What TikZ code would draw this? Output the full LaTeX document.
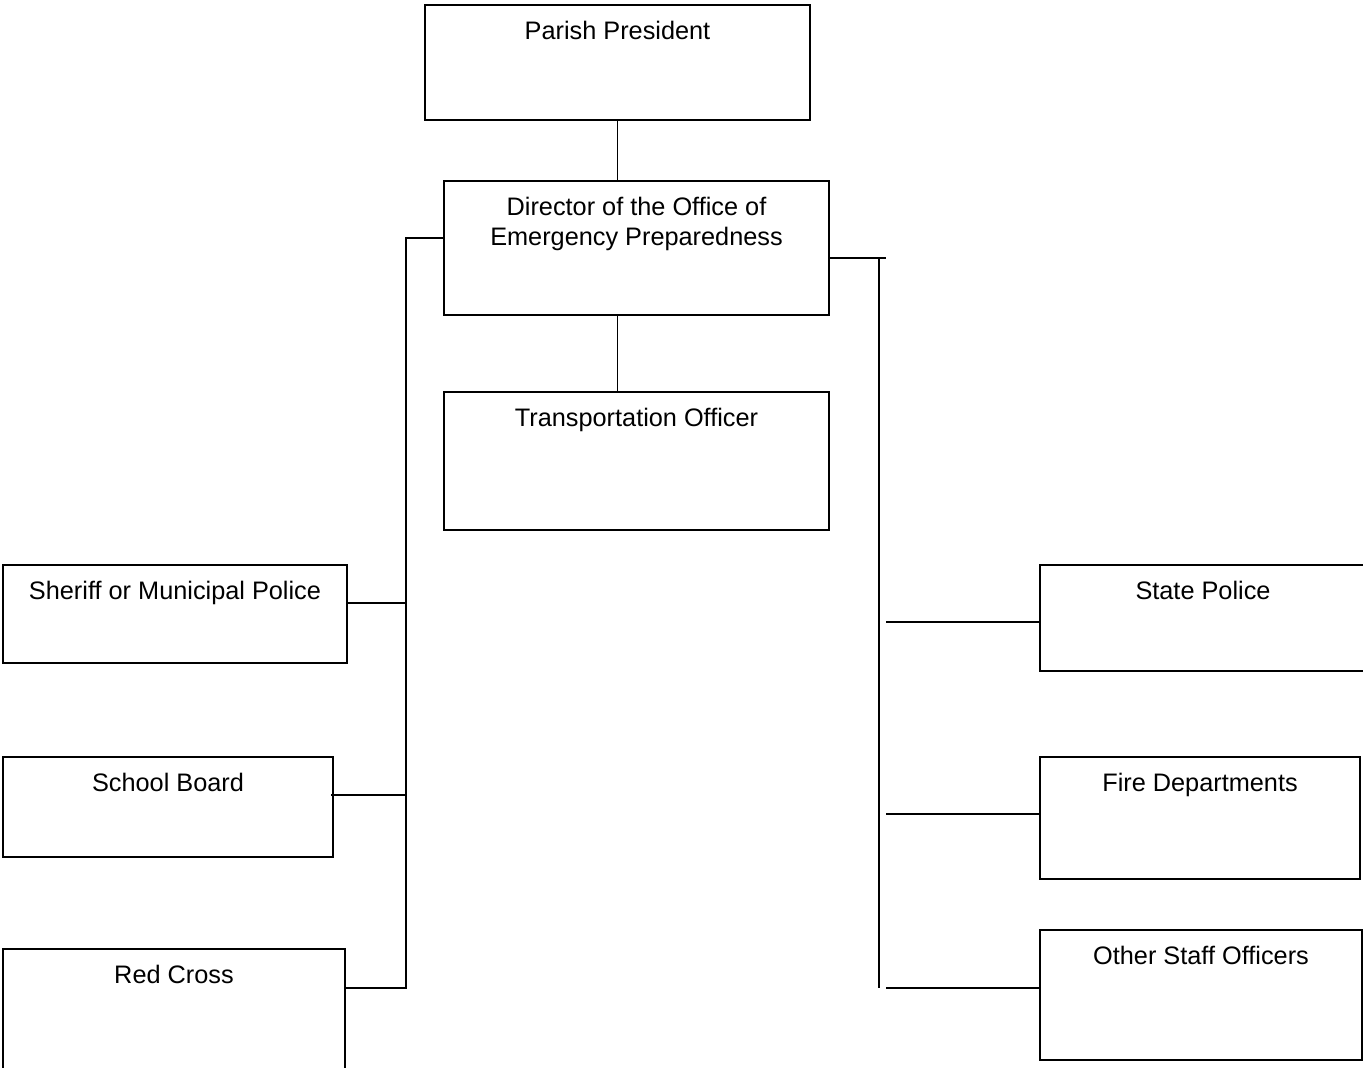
\documentclass[tikz,border=0pt]{standalone}
\usepackage{fontspec}
\setmainfont{Liberation Sans}
\usetikzlibrary{
	calc
}

\tikzset{
	orgbox/.style={draw, line width=1.2pt, inner sep=0pt},
	orgtext/.style={anchor=north, inner sep=0pt, align=center, font=\fontsize{14.4}{17}\selectfont},
	link/.style={line width=0.8pt}
}

\begin{document}
\begin{tikzpicture}[x=0.02cm, y=-0.02cm]
    % Page
    \clip (0,0) rectangle (1363,1068);
    % Boxes
    \node[orgbox, minimum width=7.7cm,  minimum height=2.3cm]  (pres)   at (617.5,62.5) {};
    \node[orgbox, minimum width=7.7cm,  minimum height=2.68cm] (dir)    at (636.5,248)  {};
    \node[orgbox, minimum width=7.7cm,  minimum height=2.76cm] (trans)  at (636.5,461)  {};
    \node[orgbox, minimum width=6.88cm, minimum height=1.96cm] (sher)   at (175,614)    {};
    \node[orgbox, minimum width=6.6cm,  minimum height=2.0cm]  (school) at (168,807)    {};
    \node[orgbox, minimum width=6.84cm, minimum height=2.82cm] (red)    at (174,1019.5) {};
    \node[orgbox, minimum width=6.52cm, minimum height=2.12cm] (state)  at (1203,618)   {};
    \node[orgbox, minimum width=6.4cm,  minimum height=2.44cm] (fire)   at (1200,818)   {};
    \node[orgbox, minimum width=6.44cm, minimum height=2.6cm]  (other)  at (1201,995)   {};
    % Texts
    \node[orgtext] (presT)   at ([yshift=-0.34cm]pres.north)   {Parish President};
    \node[orgtext] (dirT)    at ([yshift=-0.34cm]dir.north)    {Director of the Office of\\Emergency Preparedness};
    \node[orgtext] (transT)  at ([yshift=-0.34cm]trans.north)  {Transportation Officer};
    \node[orgtext] (sherT)   at ([yshift=-0.34cm]sher.north)   {Sheriff or Municipal Police};
    \node[orgtext] (schoolT) at ([yshift=-0.34cm]school.north) {School Board};
    \node[orgtext] (redT)    at ([yshift=-0.34cm]red.north)    {Red Cross};
    \node[orgtext] (stateT)  at ([yshift=-0.34cm]state.north)  {State Police};
    \node[orgtext] (fireT)   at ([yshift=-0.34cm]fire.north)   {Fire Departments};
    \node[orgtext] (otherT)  at ([yshift=-0.34cm]other.north)  {Other Staff Officers};
    % Bus points
    \coordinate (lTop)  at (406,238);
    \coordinate (lBot)  at (406,988);
    \coordinate (l1)    at (406,603);
    \coordinate (l2)    at (406,795);
    \coordinate (rTop)  at (886,258);
    \coordinate (rBusT) at (879,258);
    \coordinate (rBusB) at (879,988);
    \coordinate (r1)    at (886,622);
    \coordinate (r2)    at (886,814);
    \coordinate (r3)    at (886,988);
    % Vertical links
    \draw[link] (pres.south) -- (pres.south |- dir.north);
    \draw[link] (pres.south |- dir.south) -- (pres.south |- trans.north);
    % Left side
    \draw[link] (dir.west |- lTop) -- (lTop) -- (lBot) -- (red.east |- lBot);
    \draw[link] (sher.east |- l1) -- (l1);
    \draw[link] ([xshift=-0.06cm]school.east |- l2) -- (l2);
    % Right side
    \draw[link] (dir.east |- rTop) -- (rTop);
    \draw[link] (rBusT) -- (rBusB);
    \draw[link] (r1) -- (state.west |- r1);
    \draw[link] (r2) -- (fire.west |- r2);
    \draw[link] (r3) -- (other.west |- r3);
\end{tikzpicture}
\end{document}
